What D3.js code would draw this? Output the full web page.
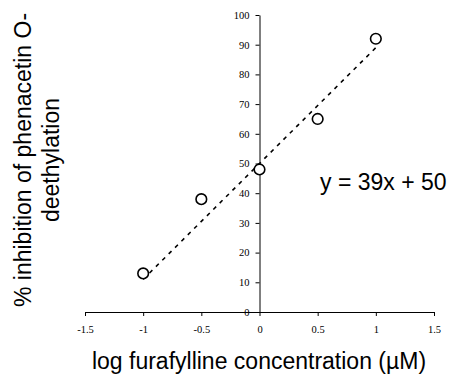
<!doctype html>
<html lang="en">
<head>
  <meta charset="UTF-8">
  <script src="https://cdn.jsdelivr.net/npm/d3@7/dist/d3.min.js"></script>
  <title>Furafylline inhibition</title>
  <style>
    body{ margin:0; background:#fff;}
    .chart svg{ display:block; background:#fff;}
    .axis text{ font-family:"Liberation Serif","Times New Roman",serif; font-size:10.5px; fill:#000;}
    .axis path, .axis line{ stroke:#000; stroke-width:1;}
    .lbl{ font-family:"Liberation Sans",Arial,sans-serif; font-size:23px; fill:#000;}
  </style>
</head>
<body>
  <div class="chart"></div>
  <script>
    // log concentration vs % inhibition
    const logConc = [-1, -0.5, 0, 0.5, 1];
    const inhibition = [13, 38, 48, 65, 92];
    const fitSlope = 39, fitIntercept = 50;
    const xTicks = [-1.5, -1, -0.5, 0, 0.5, 1, 1.5];
    const xTickLabels = ['-1.5', '-1', '-0.5', '0', '0.5', '1', '1.5'];
    const yTicks = [0, 10, 20, 30, 40, 50, 60, 70, 80, 90, 100];

    const W = 456, H = 380;
    const svg = d3.select('.chart').append('svg').attr('width', W).attr('height', H);

    const x = d3.scaleLinear().domain([-1.5, 1.5]).range([85, 434]);
    const y = d3.scaleLinear().domain([0, 100]).range([312, 15]);

    svg.append('g').attr('class', 'axis')
      .attr('transform', `translate(0,${y(0)})`)
      .call(d3.axisBottom(x).tickValues(xTicks).tickSize(4).tickSizeOuter(0).tickPadding(10)
        .tickFormat((d, i) => xTickLabels[i]));

    svg.append('g').attr('class', 'axis')
      .attr('transform', `translate(${x(0)},0)`)
      .call(d3.axisLeft(y).tickValues(yTicks).tickSize(4).tickSizeOuter(0).tickPadding(6));

    // linear fit, dashed
    const fit = d3.line().x(d => x(d)).y(d => y(fitSlope * d + fitIntercept));
    svg.append('path').datum([-1, 1]).attr('d', fit)
      .attr('fill', 'none').attr('stroke', '#000').attr('stroke-width', 1.6)
      .attr('stroke-dasharray', '4,5');

    svg.append('g').selectAll('circle').data(logConc).enter().append('circle')
      .attr('cx', d => x(d)).attr('cy', (d, i) => y(inhibition[i])).attr('r', 5.3)
      .attr('fill', '#fff').attr('stroke', '#000').attr('stroke-width', 1.6);

    svg.append('text').attr('class', 'lbl').attr('x', 320).attr('y', 190)
      .text(`y = ${fitSlope}x + ${fitIntercept}`);

    svg.append('text').attr('class', 'lbl').attr('text-anchor', 'middle')
      .attr('x', 259).attr('y', 369).text('log furafylline concentration (µM)');

    const yl = svg.append('text').attr('class', 'lbl').attr('text-anchor', 'middle')
      .attr('transform', 'translate(31,160) rotate(-90)');
    yl.append('tspan').attr('x', 0).attr('y', 0).text('% inhibition of phenacetin O-');
    yl.append('tspan').attr('x', 0).attr('y', 28).text('deethylation');
  </script>
</body>
</html>
